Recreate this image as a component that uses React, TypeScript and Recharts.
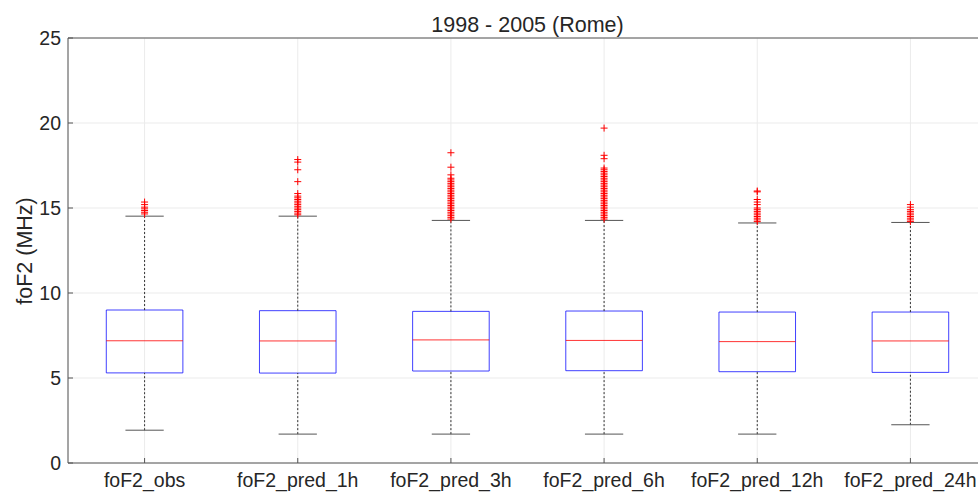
import React from 'react';
import {
  ComposedChart, XAxis, YAxis, CartesianGrid, ReferenceArea, ReferenceLine, Scatter,
} from 'recharts';

const categories = ['foF2_obs', 'foF2_pred_1h', 'foF2_pred_3h', 'foF2_pred_6h', 'foF2_pred_12h', 'foF2_pred_24h'];
const q1 = [5.30, 5.29, 5.41, 5.43, 5.37, 5.33];
const medians = [7.19, 7.18, 7.24, 7.21, 7.14, 7.18];
const q3 = [9.00, 8.96, 8.92, 8.94, 8.88, 8.88];
const whiskerLow = [1.93, 1.70, 1.70, 1.70, 1.70, 2.25];
const whiskerHigh = [14.52, 14.52, 14.27, 14.27, 14.12, 14.15];
const outliersObs = [15.35, 15.2, 15.05, 14.95, 14.85, 14.75, 14.65];
const outliers1h = [17.85, 17.7, 17.25, 16.55, 15.85, 15.7, 15.6, 15.5, 15.4, 15.3, 15.2, 15.1, 15.0, 14.9, 14.8, 14.7, 14.6];
const outliers3h = [18.25, 17.4, 16.95, 16.75, 16.65, 16.55, 16.45, 16.35, 16.25, 16.15, 16.05, 15.95, 15.85, 15.75, 15.65, 15.55, 15.45, 15.35, 15.25, 15.15, 15.05, 14.95, 14.85, 14.75, 14.65, 14.55, 14.45, 14.35];
const outliers6h = [19.7, 18.1, 17.9, 17.35, 17.25, 17.15, 17.05, 16.95, 16.85, 16.75, 16.65, 16.55, 16.45, 16.35, 16.25, 16.15, 16.05, 15.95, 15.85, 15.75, 15.65, 15.55, 15.45, 15.35, 15.25, 15.15, 15.05, 14.95, 14.85, 14.75, 14.65, 14.55, 14.45, 14.35];
const outliers12h = [16.0, 15.95, 15.5, 15.35, 15.2, 15.0, 14.9, 14.8, 14.7, 14.6, 14.5, 14.4, 14.3, 14.2];
const outliers24h = [15.2, 15.05, 14.9, 14.8, 14.7, 14.6, 14.5, 14.4, 14.3, 14.2];
const yTicks = [0, 5, 10, 15, 20, 25];
const xTicks = [1, 2, 3, 4, 5, 6];

const allOutliers = [outliersObs, outliers1h, outliers3h, outliers6h, outliers12h, outliers24h];
const outlierData = allOutliers.flatMap((arr, i) => arr.map((v) => ({ x: i + 1, y: v })));

const FONT = '"Liberation Sans", Arial, Helvetica, sans-serif';
const TEXT = '#262626';
const AXIS = '#555555';
const TICK_FS = 19.5;
const LABEL_FS = 21.5;

const BOX_HALF = 0.25;
const CAP_HALF = 0.125;

const PlusShape = (props: any) => {
  const { cx, cy } = props;
  if (cx == null || cy == null) return null;
  return (
    <path d={`M${cx - 3.5},${cy}h7M${cx},${cy - 3.5}v7`} stroke="#ff0000" strokeWidth={1} fill="none" />
  );
};

const YTick = (props: any) => {
  const { x, y, payload } = props;
  return (
    <g>
      <line x1={x + 7} x2={x + 12} y1={y} y2={y} stroke={AXIS} />
      <text x={x} y={y} dy="0.36em" textAnchor="end" fontSize={TICK_FS} fill={TEXT} fontFamily={FONT}>
        {payload.value}
      </text>
    </g>
  );
};

const XTick = (props: any) => {
  const { x, y, payload } = props;
  return (
    <g>
      <line x1={x} x2={x} y1={y - 10} y2={y - 15} stroke={AXIS} />
      <text x={x} y={y} dy="0.71em" textAnchor="middle" fontSize={TICK_FS} fill={TEXT} fontFamily={FONT}>
        {categories[payload.value - 1]}
      </text>
    </g>
  );
};

export default function App() {
  return (
    <div style={{ position: 'absolute', left: 0, top: 0, width: 978, height: 493, overflow: 'hidden', background: '#fff' }}>
      <div
        style={{
          position: 'absolute', left: 68, width: 919, top: 12.5, textAlign: 'center',
          fontFamily: FONT, fontSize: LABEL_FS, color: TEXT, lineHeight: '24px', whiteSpace: 'nowrap',
        }}
      >
        1998 - 2005 (Rome)
      </div>
      <div
        style={{
          position: 'absolute', left: 25, top: 251, transform: 'translate(-50%, -50%) rotate(-90deg)',
          fontFamily: FONT, fontSize: LABEL_FS, color: TEXT, whiteSpace: 'nowrap', lineHeight: '24px',
        }}
      >
        foF2 (MHz)
      </div>
      <div style={{ position: 'absolute', left: 0, top: 0 }}>
        <ComposedChart width={988} height={493} margin={{ top: 38, right: 1, bottom: 0, left: 0 }}>
          <CartesianGrid stroke="#ebebeb" />
          <XAxis
            type="number"
            dataKey="x"
            domain={[0.5, 6.5]}
            ticks={xTicks}
            allowDataOverflow
            height={30}
            tickSize={0}
            tickMargin={10}
            tick={<XTick />}
            axisLine={{ stroke: AXIS }}
            tickLine={false}
          />
          <YAxis
            type="number"
            dataKey="y"
            domain={[0, 25]}
            ticks={yTicks}
            allowDataOverflow
            width={68}
            tickSize={0}
            tickMargin={7}
            tick={<YTick />}
            axisLine={{ stroke: AXIS }}
            tickLine={false}
          />
          <ReferenceLine y={25} stroke={AXIS} />
          {categories.map((c, i) => (
            <ReferenceLine
              key={`wu-${c}`}
              segment={[{ x: i + 1, y: q3[i] }, { x: i + 1, y: whiskerHigh[i] }]}
              stroke="#333"
              strokeDasharray="2 2"
            />
          ))}
          {categories.map((c, i) => (
            <ReferenceLine
              key={`wl-${c}`}
              segment={[{ x: i + 1, y: whiskerLow[i] }, { x: i + 1, y: q1[i] }]}
              stroke="#333"
              strokeDasharray="2 2"
            />
          ))}
          {categories.map((c, i) => (
            <ReferenceLine
              key={`cu-${c}`}
              segment={[{ x: i + 1 - CAP_HALF, y: whiskerHigh[i] }, { x: i + 1 + CAP_HALF, y: whiskerHigh[i] }]}
              stroke="#555"
            />
          ))}
          {categories.map((c, i) => (
            <ReferenceLine
              key={`cl-${c}`}
              segment={[{ x: i + 1 - CAP_HALF, y: whiskerLow[i] }, { x: i + 1 + CAP_HALF, y: whiskerLow[i] }]}
              stroke="#555"
            />
          ))}
          {categories.map((c, i) => (
            <ReferenceArea
              key={`box-${c}`}
              x1={i + 1 - BOX_HALF}
              x2={i + 1 + BOX_HALF}
              y1={q1[i]}
              y2={q3[i]}
              stroke="#0000ff"
              strokeOpacity={0.75}
              fill="none"
              fillOpacity={0}
            />
          ))}
          {categories.map((c, i) => (
            <ReferenceLine
              key={`med-${c}`}
              segment={[{ x: i + 1 - BOX_HALF, y: medians[i] }, { x: i + 1 + BOX_HALF, y: medians[i] }]}
              stroke="#ff0000"
              strokeOpacity={0.8}
            />
          ))}
          <Scatter data={outlierData} shape={<PlusShape />} isAnimationActive={false} />
        </ComposedChart>
      </div>
    </div>
  );
}
